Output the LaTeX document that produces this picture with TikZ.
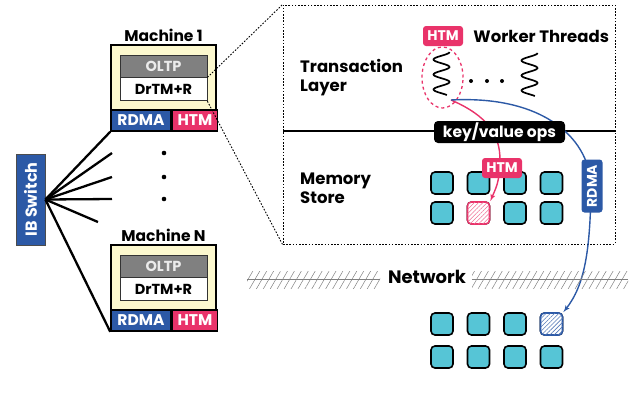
\documentclass[tikz,border=0pt]{standalone}
\usepackage{fontspec}
\setmainfont{Poppins}
\usepackage{tikz}
\usetikzlibrary{arrows,positioning,patterns,patterns.meta,shapes.geometric}

\definecolor{rdmablue}{HTML}{2C59A6}
\definecolor{htmpink}{HTML}{E9336A}
\definecolor{cellcyan}{HTML}{56C5D6}
\definecolor{machyellow}{HTML}{FCF8CE}
\definecolor{oltpgray}{HTML}{808080}

\begin{document}
\begin{tikzpicture}[
		x=1pt, y=-1pt,
		>=latex',
		font=\bfseries\fontsize{16.5}{19}\selectfont,
		machine/.style={
			draw=black,
			line width=1.5pt,
			fill=machyellow,
			minimum width=105pt,
			minimum height=65pt,
			inner sep=0pt
		},
		layerbox/.style={
			draw=black!80,
			line width=0.8pt,
			minimum width=87pt,
			minimum height=23pt,
			inner sep=0pt,
			font=\bfseries\fontsize{14.5}{16}\selectfont
		},
		tag/.style={
			draw=black,
			line width=1.5pt,
			minimum height=21pt,
			inner sep=0pt,
			text=white,
			font=\bfseries\fontsize{15.5}{17}\selectfont
		},
		htmtag/.style={
			fill=htmpink,
			rounded corners=3pt,
			text=white,
			minimum width=40pt,
			minimum height=20pt,
			inner sep=0pt,
			font=\bfseries\fontsize{14}{16}\selectfont
		},
		caption/.style={
			inner sep=1pt,
			align=left
		},
		cell/.style={
			draw=black,
			line width=1.6pt,
			fill=cellcyan,
			rounded corners=4pt,
			minimum size=22pt,
			inner sep=0pt
		},
		link/.style={
			line width=2.3pt
		},
		zoomline/.style={
			line width=0.9pt,
			dash pattern=on 1.6pt off 1.6pt
		},
		thread/.style={
			line width=1.7pt
		},
		netband/.style={
			pattern={Lines[angle=60, distance=6pt, line width=0.5pt]},
			pattern color=gray,
			minimum height=17pt,
			inner sep=0pt
		}
		]
		\useasboundingbox (0,0) rectangle (634,397);

		% machines on the left
		\foreach \m/\dy/\title in {m1/0/Machine 1, mN/200/Machine N} {
			\node [machine] (\m) at (163.5,77.5+\dy) {};
			\node [layerbox, fill=oltpgray, text=white!92!black, minimum height=22pt] (\m-oltp) at (163.5,66+\dy) {OLTP};
			\node [layerbox, fill=white, below=0pt of \m-oltp] (\m-drtm) {DrTM+R};
			\node [tag, fill=rdmablue, minimum width=60pt] (\m-rdma) at (141,120.5+\dy) {RDMA};
			\node [tag, fill=htmpink, minimum width=45pt, right=0pt of \m-rdma] (\m-htm) {HTM};
			\node [caption, above=1pt of \m, font=\bfseries\fontsize{15.5}{17}\selectfont] (\m-title) {\title};
		}

		\foreach \y in {153,177,199}
			\fill (164,\y) circle (2.3pt);

		% the switch and its links
		\node [fill=rdmablue, draw=black!70, line width=0.8pt, rotate=90, minimum width=91pt, minimum height=29pt,
			inner sep=0pt, text=white, font=\bfseries\fontsize{16}{18}\selectfont] (ib) at (30.5,199.5) {IB Switch};

		\draw [link] (ib.south) -- (m1-rdma.south west);
		\draw [link] (ib.south) -- (mN-rdma.south west);
		\foreach \x/\y [count=\i] in {112/153, 112/177, 112/199, 98/222} {
			\coordinate (stub\i) at (\x,\y);
			\draw [link] (ib.south) -- (stub\i);
		}

		% zoomed view of one machine
		\node [draw, zoomline, minimum width=332pt, minimum height=239pt, inner sep=0pt] (panel) at (449,124.5) {};
		\coordinate (divL) at (283,131);
		\coordinate (divR) at (616,131);
		\draw [line width=2pt] (divL) -- (divR);

		\draw [zoomline] (m1-oltp.south east) -- (panel.north west);
		\draw [zoomline] (m1-drtm.south east) -- (panel.south west);

		\node [caption, anchor=west] (txn) at (299,77.5) {Transaction\\Layer};
		\node [caption, anchor=west] (mem) at (299,188.5) {Memory\\Store};

		\node [htmtag] (htm-w) at (443,36) {HTM};
		\node [caption, right=9pt of htm-w] (workers) {Worker Threads};
		\node [ellipse, draw=htmpink, dashed, line width=1.3pt, minimum width=41pt, minimum height=61pt, inner sep=0pt] (ring) at (442.5,77.5) {};
		\foreach \tx/\ty in {441.5/52, 529.5/53}
			\draw [thread] plot [smooth, domain=0:43, samples=60] ({\tx+8*cos(\x*24)}, {\ty+\x});
		\foreach \x in {471,487,502}
			\fill (\x,81) circle (2pt);
		\coordinate (t1) at (451,100);

		% memory store and remote store
		\foreach \c [count=\i] in {442,478.5,515,551.5} {
			\foreach \r [count=\j] in {183,213}
				\node [cell] (s-\j-\i) at (\c,\r) {};
			\foreach \r [count=\j] in {324,357}
				\node [cell] (r-\j-\i) at (\c,\r) {};
		}
		\node [cell, draw=htmpink, fill=white, postaction={pattern={Lines[angle=45, distance=3pt, line width=0.6pt]}, pattern color=htmpink!70}] at (s-2-2) {};
		\node [cell, draw=rdmablue, fill=white, postaction={pattern={Lines[angle=45, distance=3pt, line width=0.6pt]}, pattern color=rdmablue!80}] at (r-1-4) {};

		% accesses
		\draw [->, htmpink, line width=1.4pt] (t1) .. controls (488,116) and (500,135) .. (500,160)
			.. controls (500,182) and (495,190) .. (s-2-2.north east);
		\draw [->, rdmablue, line width=1.4pt] (t1) .. controls (545,95) and (592,140) .. (591,190)
			.. controls (590,250) and (585,285) .. (r-1-4.north east);

		\node [fill=black, rounded corners=4pt, text=white, minimum width=131pt, minimum height=22pt, inner sep=0pt,
			font=\bfseries\fontsize{15.5}{17}\selectfont] (kv) at (499.5,132) {key/value ops};
		\node [htmtag] (htm-s) at (502,168) {HTM};
		\node [htmtag, fill=rdmablue, rotate=90, minimum width=53pt, minimum height=21pt] (rdma-s) at (592,186) {RDMA};

		% network
		\node [netband, minimum width=133pt] (netL) at (313.5,279.5) {};
		\node [netband, minimum width=156pt] (netR) at (550,279.5) {};
		\draw [gray, line width=0.8pt] (netL.west) -- (netL.east);
		\draw [gray, line width=0.8pt] (netR.west) -- (netR.east);
		\node [caption, fill=white, font=\bfseries\fontsize{18}{20}\selectfont] (net) at (427,277) {Network};
		\end{tikzpicture}
\end{document}
